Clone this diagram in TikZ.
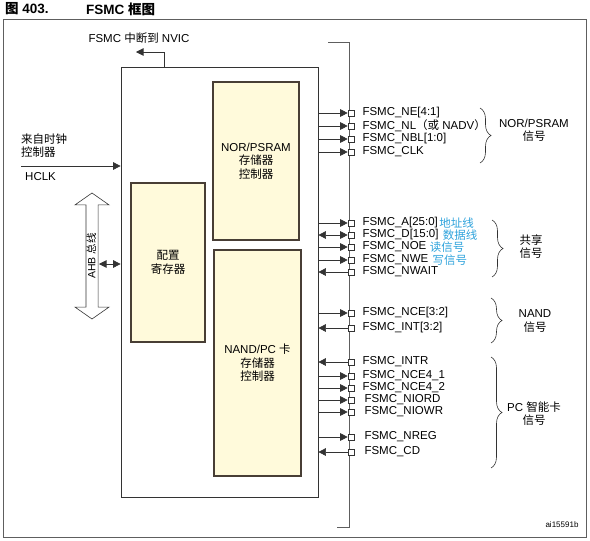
\documentclass[tikz,border=0pt]{standalone}
\usepackage{fontspec}
\setmainfont{Liberation Sans}
\newfontfamily\cjk{Noto Sans CJK SC}
\newcommand{\zh}[1]{{\cjk #1}}
\usetikzlibrary{arrows.meta,positioning,shapes.arrows,decorations.pathreplacing}
\definecolor{ink}{HTML}{333333}
\definecolor{rule}{HTML}{5E5E5E}
\definecolor{memfill}{HTML}{FFFADB}
\definecolor{note}{HTML}{2FA3DC}

\begin{document}
\begin{tikzpicture}[
  x=1pt, y=-1pt,
  font=\fontsize{11.5}{13.5}\selectfont,
  block/.style={draw=ink, line width=.7pt, inner sep=0pt},
  membox/.style={draw=ink!85!brown, line width=1.3pt, fill=memfill, align=center, inner sep=0pt},
  pad/.style={draw=ink, fill=white, line width=.6pt, minimum size=6pt, inner sep=0pt},
  sig/.style={inner sep=0pt, anchor=west},
  hint/.style={inner sep=0pt, text=note},
  grp/.style={align=center, inner sep=0pt},
  heading/.style={anchor=west, inner sep=0pt, font=\bfseries\fontsize{13.5}{15}\selectfont},
  outflow/.style={-{Triangle[length=7.5pt,width=7.5pt]}, draw=ink, line width=.6pt},
  inflow/.style={{Triangle[length=7.5pt,width=7.5pt]}-, draw=ink, line width=.6pt},
  bothflow/.style={{Triangle[length=7.5pt,width=7.5pt]}-{Triangle[length=7.5pt,width=7.5pt]}, draw=ink, line width=.6pt},
  brc/.style={decorate, decoration={brace, amplitude=11pt}, draw=ink, line width=.6pt}
]
  \useasboundingbox (0,0) rectangle (590,541);

  \node[heading] (title) at (5,9) {\zh{图} 403.};
  \node[heading] (titlename) at (86,9) {FSMC \zh{框图}};
  \node[draw=rule, line width=1pt, minimum width=583, minimum height=518] (outer) at (294.5,278) {};

  % FSMC block and its controllers
  \node[block, minimum width=197, minimum height=430] (fsmc) at (219.5,282) {};
  \node[membox, minimum width=86, minimum height=158] (nor) at (256,161) {NOR/PSRAM\\\zh{存储器}\\\zh{控制器}};
  \node[membox, minimum width=74, minimum height=159] (cfg) at (168,262.5) {\zh{配置}\\\zh{寄存器}};
  \node[membox, minimum width=87, minimum height=226] (nand) at (257.5,363) {NAND/PC \zh{卡}\\\zh{存储器}\\\zh{控制器}};

  % interrupt, clock and AHB side
  \coordinate (irqsrc) at (164,67);
  \coordinate (irqdst) at (136,52);
  \draw[outflow] (irqsrc) |- (irqdst);
  \node (nvic) at (139,38) {FSMC \zh{中断到} NVIC};

  \coordinate (hclkin) at (21,166);
  \draw[outflow] (hclkin) -- (fsmc.west |- hclkin);
  \node[anchor=west, align=left, inner sep=0pt] (clksrc) at (21,145.5) {\zh{来自时钟}\\\zh{控制器}};
  \node[anchor=west, inner sep=0pt] (hclk) at (25,177) {HCLK};

  \node[double arrow, draw=ink, fill=white, line width=.6pt, rotate=90, minimum height=126pt,
    double arrow head extend=11pt, double arrow tip angle=110, inner sep=1.5pt,
    text height=7.5pt, text depth=1pt, font=\fontsize{10.5}{10.5}\selectfont] (ahb) at (92,256) {AHB \zh{总线}};
  \coordinate (ahbport) at (99,264);
  \draw[bothflow] (ahbport) -- (fsmc.west |- ahbport);

  % pin bus
  \coordinate (bustop) at (328,42);
  \coordinate (busbot) at (337,527);
  \draw[draw=rule, line width=.8pt] (bustop) -- ++(21,0) |- (busbot);

  % NOR/PSRAM signals
  \node[pad] (ne) at (351,113) {};
  \node[pad] (nl) at (351,126) {};
  \node[pad] (nbl) at (351,139) {};
  \node[pad] (clk) at (351,152) {};
  \node[sig, right=8pt of ne] (nel) {FSMC\_NE[4:1]};
  \node[sig, right=8pt of nl] (nll) {FSMC\_NL\zh{（或} NADV\zh{）}};
  \node[sig, right=8pt of nbl] (nbll) {FSMC\_NBL[1:0]};
  \node[sig, right=8pt of clk] (clkl) {FSMC\_CLK};
  \draw[outflow] (fsmc.east |- ne) -- (ne.west);
  \draw[outflow] (fsmc.east |- nl) -- (nl.west);
  \draw[outflow] (fsmc.east |- nbl) -- (nbl.west);
  \draw[outflow] (fsmc.east |- clk) -- (clk.west);

  % shared signals
  \node[pad] (addr) at (351,223) {};
  \node[pad] (data) at (351,235) {};
  \node[pad] (noe) at (351,247) {};
  \node[pad] (nwe) at (351,260) {};
  \node[pad] (nwait) at (351,272) {};
  \node[sig, right=8pt of addr] (addrl) {FSMC\_A[25:0]};
  \node[sig, right=8pt of data] (datal) {FSMC\_D[15:0]};
  \node[sig, right=8pt of noe] (noel) {FSMC\_NOE};
  \node[sig, right=8pt of nwe] (nwel) {FSMC\_NWE};
  \node[sig, right=8pt of nwait] (nwaitl) {FSMC\_NWAIT};
  \node[hint, right=1pt of addrl] (addrh) {\zh{地址线}};
  \node[hint, right=4pt of datal] (datah) {\zh{数据线}};
  \node[hint, right=3pt of noel] (noeh) {\zh{读信号}};
  \node[hint, right=4pt of nwel] (nweh) {\zh{写信号}};
  \draw[outflow] (fsmc.east |- addr) -- (addr.west);
  \draw[bothflow] (fsmc.east |- data) -- (data.west);
  \draw[outflow] (fsmc.east |- noe) -- (noe.west);
  \draw[outflow] (fsmc.east |- nwe) -- (nwe.west);
  \draw[inflow] (fsmc.east |- nwait) -- (nwait.west);

  % NAND signals
  \node[pad] (nce) at (351,313) {};
  \node[pad] (nint) at (351,328) {};
  \node[sig, right=8pt of nce] (ncel) {FSMC\_NCE[3:2]};
  \node[sig, right=8pt of nint] (nintl) {FSMC\_INT[3:2]};
  \draw[outflow] (fsmc.east |- nce) -- (nce.west);
  \draw[inflow] (fsmc.east |- nint) -- (nint.west);

  % PC card signals
  \node[pad] (intr) at (351,362) {};
  \node[pad] (ncea) at (351,376) {};
  \node[pad] (nceb) at (351,388) {};
  \node[pad] (niord) at (351,400) {};
  \node[pad] (niowr) at (351,412) {};
  \node[pad] (nreg) at (351,437) {};
  \node[pad] (cd) at (351,452) {};
  \node[sig, right=8pt of intr] (intrl) {FSMC\_INTR};
  \node[sig, right=8pt of ncea] (nceal) {FSMC\_NCE4\_1};
  \node[sig, right=8pt of nceb] (ncebl) {FSMC\_NCE4\_2};
  \node[sig, right=10pt of niord] (niordl) {FSMC\_NIORD};
  \node[sig, right=10pt of niowr] (niowrl) {FSMC\_NIOWR};
  \node[sig, right=10pt of nreg] (nregl) {FSMC\_NREG};
  \node[sig, right=10pt of cd] (cdl) {FSMC\_CD};
  \draw[inflow] (fsmc.east |- intr) -- (intr.west);
  \draw[outflow] (fsmc.east |- ncea) -- (ncea.west);
  \draw[outflow] (fsmc.east |- nceb) -- (nceb.west);
  \draw[outflow] (fsmc.east |- niord) -- (niord.west);
  \draw[outflow] (fsmc.east |- niowr) -- (niowr.west);
  \draw[outflow] (fsmc.east |- nreg) -- (nreg.west);
  \draw[inflow] (fsmc.east |- cd) -- (cd.west);

  % groups
  \coordinate (norbt) at (480,108);
  \coordinate (norbb) at (480,163);
  \coordinate (shbt) at (492,220);
  \coordinate (shbb) at (492,277);
  \coordinate (nandbt) at (491,298);
  \coordinate (nandbb) at (491,343);
  \coordinate (pcbt) at (491,357);
  \coordinate (pcbb) at (491,468);
  \draw[brc] (norbt) -- (norbb);
  \draw[brc] (shbt) -- (shbb);
  \draw[brc] (nandbt) -- (nandbb);
  \draw[brc] (pcbt) -- (pcbb);
  \node[grp] (norgrp) at (534,130.5) {NOR/PSRAM\\\zh{信号}};
  \node[grp] (shgrp) at (531,246.5) {\zh{共享}\\\zh{信号}};
  \node[grp] (nandgrp) at (535,321) {NAND\\\zh{信号}};
  \node[grp] (pcgrp) at (534,413.5) {PC \zh{智能卡}\\\zh{信号}};

  \node[font=\fontsize{8}{8}\selectfont, inner sep=0pt] (figid) at (562,525) {ai15591b};
\end{tikzpicture}
\end{document}
